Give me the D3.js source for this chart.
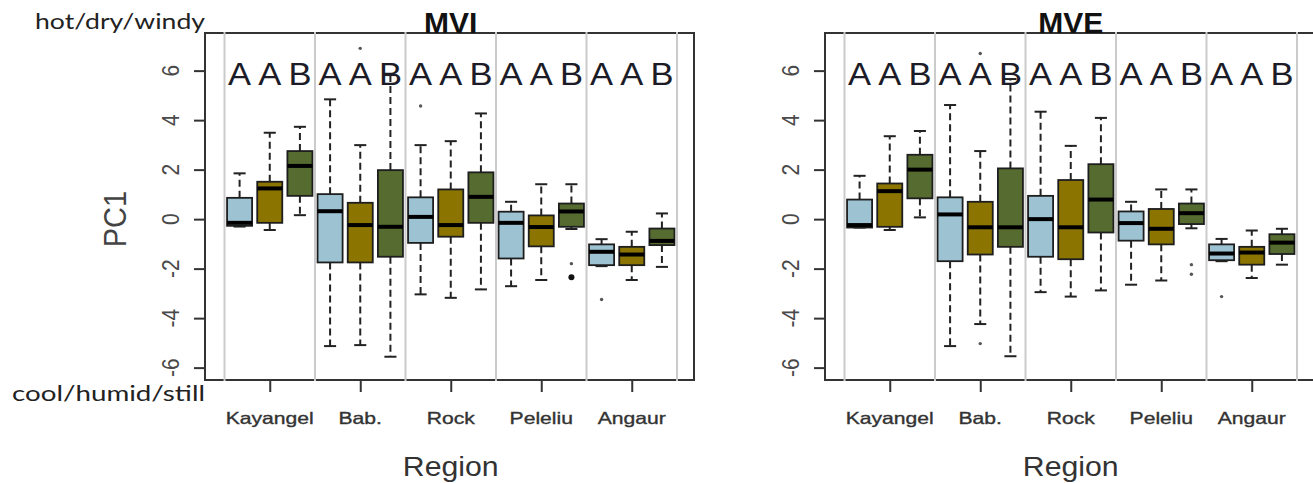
<!DOCTYPE html>
<html><head><meta charset="utf-8">
<script src="https://cdn.jsdelivr.net/npm/d3@7"></script>
<style>html,body{margin:0;padding:0;background:#fff;}svg{display:block;}</style>
</head><body>
<svg id="chart" width="1313" height="483"></svg>
<script>
// ---------- data ----------
const regions = ["Kayangel", "Bab.", "Rock", "Peleliu", "Angaur"];
const letters = ["A","A","B","A","A","B","A","A","B","A","A","B","A","A","B"];
const yTicks = [-6, -4, -2, 0, 2, 4, 6];
const fills = ["#9DC3D3", "#8B7500", "#556B2F"];

// MVI panel (15 boxes: 3 per region)
const mviLow  = [-0.30,-0.44,0.16, -5.13,-5.09,-5.56, -3.04,-3.18,-2.84, -2.71,-2.46,-0.40, -1.90,-2.46,-1.93];
const mviQ1   = [-0.27,-0.15,0.94, -1.75,-1.75,-1.52, -0.96,-0.71,-0.15, -1.59,-1.10,-0.31, -1.86,-1.86,-1.05];
const mviMed  = [-0.15, 1.24,2.15,  0.32,-0.24,-0.31,  0.09,-0.24, 0.90, -0.15,-0.32, 0.31, -1.32,-1.43,-0.88];
const mviQ3   = [ 0.86, 1.51,2.75,  1.01, 0.66, 1.98,  0.88, 1.20, 1.89,  0.30, 0.15, 0.63, -1.02,-1.12,-0.38];
const mviHigh = [ 1.85, 3.49,3.73,  4.84, 2.99, 5.82,  2.99, 3.15, 4.27,  0.70, 1.41, 1.41, -0.81,-0.51, 0.23];
const mviOutBox = [5, 7, 12, 12, 13];
const mviOutVal = [6.90, 4.57, -1.80, -2.35, -3.25];
const mviOutCount = [1, 1, 1, 3, 1];

// MVE panel
const mveLow  = [-0.34,-0.44,0.07, -5.13,-4.24,-5.54, -2.95,-3.13,-2.88, -2.65,-2.48,-0.37, -1.70,-2.38,-1.84];
const mveQ1   = [-0.34,-0.31,0.84, -1.70,-1.43,-1.12, -1.52,-1.62,-0.54, -0.87,-1.02,-0.20, -1.66,-1.84,-1.41];
const mveMed  = [-0.24, 1.13,2.00,  0.19,-0.33,-0.33,  0.00,-0.33, 0.79, -0.16,-0.39, 0.24, -1.39,-1.35,-0.95];
const mveQ3   = [ 0.79, 1.44,2.60,  0.88, 0.70, 2.05,  0.94, 1.58, 2.22,  0.31, 0.41, 0.63, -1.02,-1.12,-0.61];
const mveHigh = [ 1.75, 3.35,3.56,  4.61, 2.75, 5.66,  4.34, 2.96, 4.09,  0.70, 1.20, 1.20, -0.80,-0.46,-0.39];
const mveOutBox = [5, 5, 12, 12, 13];
const mveOutVal = [6.69, -5.03, -1.84, -2.23, -3.13];
const mveOutCount = [1, 1, 1, 1, 1];

// ---------- drawing ----------
const svg = d3.select("#chart");
const FONT = "'Liberation Sans', Arial, sans-serif";
const SX = 1.28; // horizontal stretch of the original image

const y = d3.scaleLinear().domain([-6.5, 7.5]).range([380, 33.5]);

function panel(opts) {
  const off = opts.offset;
  const x = d3.scaleLinear().domain([0.5, 15.5]).range([224.5 + off, 677 + off]);
  const g = svg.append("g");
  const left = 205 + off, right = 694 + off, top = 33, bottom = 380;
  const unit = x(1) - x(0);
  const bw = unit * 0.83, sw = unit * 0.4;

  // y axis ticks (D3 axis), labels drawn rotated
  const yAxis = d3.axisLeft(y).tickValues(yTicks).tickSize(11).tickFormat(() => "");
  const ya = g.append("g").attr("transform", `translate(${left},0)`).call(yAxis);
  ya.select(".domain").remove();
  ya.selectAll(".tick line").attr("stroke", "#333").attr("stroke-width", 2);
  g.selectAll(".ylab").data(yTicks).join("text")
    .attr("transform", d => `translate(${left - 26},${y(d)}) scale(1.1,1) rotate(-90)`)
    .attr("text-anchor", "middle").attr("dy", "0")
    .attr("font-family", FONT).attr("font-size", 21).attr("fill", "#4a4a4a")
    .text(d => String(d));

  // x axis ticks (D3 axis)
  const xTickPos = regions.map((r, i) => x(3 * i + 2));
  const xs = d3.scaleOrdinal().domain(regions).range(xTickPos);
  const xAxis = d3.axisBottom(xs).tickSize(12).tickFormat(() => "");
  const xa = g.append("g").attr("transform", `translate(0,${bottom})`).call(xAxis);
  xa.select(".domain").remove();
  xa.selectAll(".tick line").attr("stroke", "#333").attr("stroke-width", 2);
  g.selectAll(".xlab").data(regions).join("text")
    .attr("transform", d => `translate(${xs(d)},${bottom + 44}) scale(${SX},1)`)
    .attr("text-anchor", "middle")
    .attr("font-family", FONT).attr("font-size", 16.5).attr("fill", "#333")
    .attr("stroke", "#333").attr("stroke-width", 0.35)
    .text(d => d);

  // frame
  g.append("rect").attr("x", left).attr("y", top).attr("width", right - left).attr("height", bottom - top)
    .attr("fill", "none").attr("stroke", "#333").attr("stroke-width", 2);

  // grey separators
  const seps = d3.range(0, 16, 3).map(d => d + 0.5);
  g.selectAll(".sep").data(seps).join("line")
    .attr("x1", d => x(d)).attr("x2", d => x(d)).attr("y1", top - 1).attr("y2", bottom + 1)
    .attr("stroke", "#cbcbcb").attr("stroke-width", 2);

  const idx = d3.range(15);
  // whiskers (dashed)
  g.selectAll(".wu").data(idx).join("line")
    .attr("x1", i => x(i + 1)).attr("x2", i => x(i + 1))
    .attr("y1", i => y(opts.q3[i])).attr("y2", i => y(opts.high[i]))
    .attr("stroke", "#222").attr("stroke-width", 2).attr("stroke-dasharray", "7,4");
  g.selectAll(".wl").data(idx).join("line")
    .attr("x1", i => x(i + 1)).attr("x2", i => x(i + 1))
    .attr("y1", i => y(opts.q1[i])).attr("y2", i => y(opts.low[i]))
    .attr("stroke", "#222").attr("stroke-width", 2).attr("stroke-dasharray", "7,4");
  // staples
  g.selectAll(".su").data(idx).join("line")
    .attr("x1", i => x(i + 1) - sw / 2).attr("x2", i => x(i + 1) + sw / 2)
    .attr("y1", i => y(opts.high[i])).attr("y2", i => y(opts.high[i]))
    .attr("stroke", "#222").attr("stroke-width", 2);
  g.selectAll(".sl").data(idx).join("line")
    .attr("x1", i => x(i + 1) - sw / 2).attr("x2", i => x(i + 1) + sw / 2)
    .attr("y1", i => y(opts.low[i])).attr("y2", i => y(opts.low[i]))
    .attr("stroke", "#222").attr("stroke-width", 2);
  // boxes
  g.selectAll(".box").data(idx).join("rect")
    .attr("x", i => x(i + 1) - bw / 2).attr("width", bw)
    .attr("y", i => y(opts.q3[i])).attr("height", i => y(opts.q1[i]) - y(opts.q3[i]))
    .attr("fill", i => fills[i % 3]).attr("stroke", "#1e1e1e").attr("stroke-width", 1.8);
  // medians
  g.selectAll(".med").data(idx).join("line")
    .attr("x1", i => x(i + 1) - bw / 2).attr("x2", i => x(i + 1) + bw / 2)
    .attr("y1", i => y(opts.med[i])).attr("y2", i => y(opts.med[i]))
    .attr("stroke", "#000").attr("stroke-width", 4);
  // outliers
  g.selectAll(".out").data(opts.outBox.map((b, k) => k)).join("circle")
    .attr("cx", k => x(opts.outBox[k])).attr("cy", k => y(opts.outVal[k]))
    .attr("r", k => opts.outCount[k] > 1 ? 3 : 1.7)
    .attr("fill", k => opts.outCount[k] > 1 ? "#111" : "#555");

  // letters
  g.selectAll(".let").data(idx).join("text")
    .attr("transform", i => `translate(${x(i + 1)},85) scale(1.08,1)`)
    .attr("text-anchor", "middle")
    .attr("font-family", FONT).attr("font-size", 32).attr("fill", "#1c1c28")
    .text(i => letters[i]);

  // title
  g.append("text").attr("x", x(8)).attr("y", 33).attr("text-anchor", "middle")
    .attr("font-family", FONT).attr("font-size", 30).attr("font-weight", "bold").attr("fill", "#111")
    .text(opts.title);

  // x title
  g.append("text").attr("transform", `translate(${x(8)},476) scale(1.08,1)`).attr("text-anchor", "middle")
    .attr("font-family", FONT).attr("font-size", 28).attr("fill", "#333")
    .text("Region");
}

panel({offset: 0, title: "MVI", low: mviLow, q1: mviQ1, med: mviMed, q3: mviQ3, high: mviHigh,
  outBox: mviOutBox, outVal: mviOutVal, outCount: mviOutCount});
panel({offset: 620, title: "MVE", low: mveLow, q1: mveQ1, med: mveMed, q3: mveQ3, high: mveHigh,
  outBox: mveOutBox, outVal: mveOutVal, outCount: mveOutCount});

// PC1 label
svg.append("text").attr("transform", `translate(126,${y(0)}) scale(1.1,1) rotate(-90)`).attr("text-anchor", "middle")
  .attr("font-family", FONT).attr("font-size", 29).attr("fill", "#444").text("PC1");

// hot / cool annotations
svg.append("text").attr("x", 35).attr("y", 29)
  .attr("textLength", 170).attr("lengthAdjust", "spacingAndGlyphs")
  .attr("font-family", "Lato, 'Open Sans', sans-serif").attr("font-size", 22).attr("fill", "#222")
  .text("hot/dry/windy");
svg.append("text").attr("x", 12).attr("y", 401)
  .attr("textLength", 193).attr("lengthAdjust", "spacingAndGlyphs")
  .attr("font-family", "Lato, 'Open Sans', sans-serif").attr("font-size", 22).attr("fill", "#222")
  .text("cool/humid/still");
</script>
</body></html>
